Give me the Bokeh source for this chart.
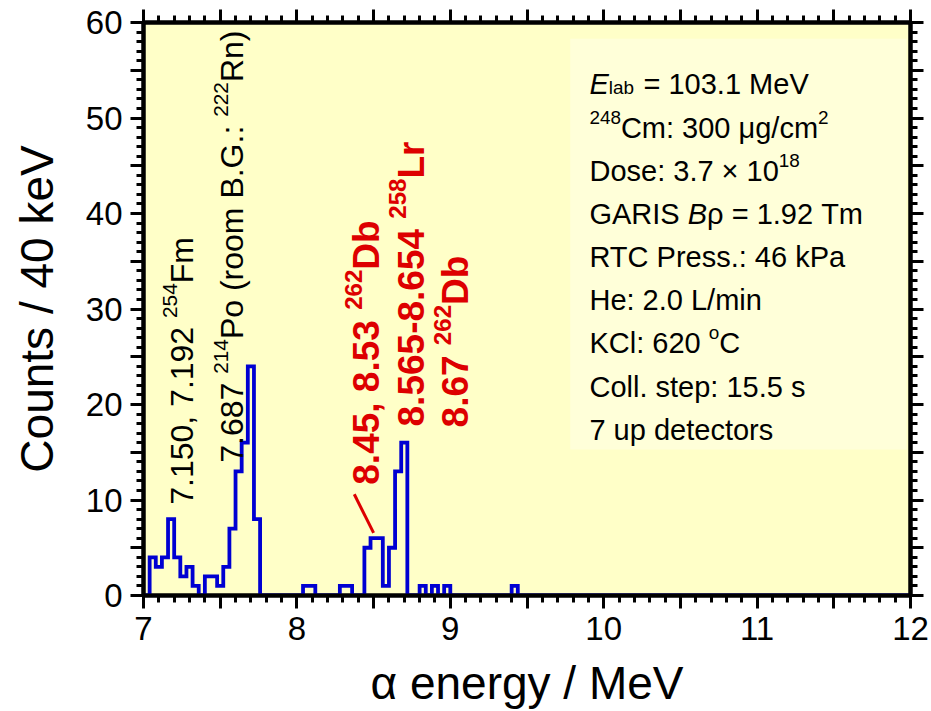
import math
from bokeh.plotting import figure
from bokeh.models import Range1d, FixedTicker, LinearAxis, Label, BoxAnnotation, CustomJSTickFormatter
from bokeh.embed import file_html
from bokeh.resources import INLINE

# ---------------- data ----------------
bin_width = 0.04
x_start, x_end = 7.0, 12.0
bin_low_edges = [7.04, 7.08, 7.12, 7.16, 7.20, 7.24, 7.28, 7.32, 7.40, 7.44, 7.48,
                 7.52, 7.56, 7.60, 7.64, 7.68, 7.72,
                 8.04, 8.08, 8.28, 8.32, 8.44, 8.48, 8.52, 8.56, 8.60, 8.64, 8.68,
                 8.80, 8.88, 8.96, 9.40]
bin_counts = [4, 3, 4, 8, 4, 2, 3, 1, 2, 2, 1,
              3, 7, 13, 16, 24, 8,
              1, 1, 1, 1, 5, 6, 6, 1, 5, 13, 16,
              1, 1, 1, 1]

x_major_ticks = [7, 7.5, 8, 8.5, 9, 9.5, 10, 10.5, 11, 11.5, 12]
y_major_ticks = [0, 5, 10, 15, 20, 25, 30, 35, 40, 45, 50, 55, 60]

# annotations (data coords of column centre / start)
black_notes = [
    (7.176, 9.5, [("7.150, 7.192 ", "n"), ("254", "sup"), ("Fm", "n")]),
    (7.502, 13.9, [("7.687 ", "n"), ("214", "sup"), ("Po (room B.G.: ", "n"), ("222", "sup"), ("Rn)", "n")]),
]
red_notes = [
    (8.366, 11.6, [("8.45, 8.53 ", "n"), ("262", "sup"), ("Db", "n")]),
    (8.659, 17.7, [("8.565-8.654 ", "n"), ("258", "sup"), ("Lr", "n")]),
    (8.947, 17.6, [("8.67 ", "n"), ("262", "sup"), ("Db", "n")]),
]
pointer = dict(x0=8.374, y0=10.6, x1=8.50, y1=6.55)

info_lines = [
    [("E", "i"), ("lab", "sub"), (" = 103.1 MeV", "n")],
    [("248", "sup"), ("Cm: 300 μg/cm", "n"), ("2", "sup")],
    [("Dose: 3.7 × 10", "n"), ("18", "sup")],
    [("GARIS ", "n"), ("B", "i"), ("ρ = 1.92 Tm", "n")],
    [("RTC Press.: 46 kPa", "n")],
    [("He: 2.0 L/min", "n")],
    [("KCl: 620 ", "n"), ("o", "sup"), ("C", "n")],
    [("Coll. step: 15.5 s", "n")],
    [("7 up detectors", "n")],
]
info_x = 9.907
info_y = [53.6, 49.0, 44.5, 40.0, 35.4, 30.9, 26.4, 21.8, 17.3]

# ---------------- font metrics (Arial / Liberation Sans) ----------------
REG = {' ': 278, '(': 333, ')': 333, ',': 278, '-': 333, '.': 278, '/': 278, ':': 278, '=': 584,
       'A': 667, 'B': 667, 'C': 722, 'D': 722, 'E': 667, 'F': 611, 'G': 778, 'H': 722, 'I': 278,
       'K': 667, 'L': 556, 'M': 833, 'P': 667, 'R': 722, 'S': 667, 'T': 611, 'V': 667,
       'a': 556, 'b': 556, 'c': 500, 'd': 556, 'e': 556, 'g': 556, 'h': 556, 'i': 222, 'k': 500,
       'l': 222, 'm': 833, 'n': 556, 'o': 556, 'p': 556, 'r': 333, 's': 500, 't': 278, 'u': 556,
       'y': 500, 'μ': 576, 'ρ': 578, '×': 584}
BOLD = {' ': 278, ',': 278, '-': 333, '.': 278, 'D': 722, 'L': 611, 'b': 611, 'r': 389}


def text_w(t, size, bold=False):
    tot = 0
    for ch in t:
        if ch.isdigit():
            tot += 556
        elif bold and ch in BOLD:
            tot += BOLD[ch]
        else:
            tot += REG.get(ch, 556)
    return tot * size / 1000.0


FONT = "Liberation Sans"
BG = "#FFFFC8"
BOX = "#FFFFD9"
BLUE = "#0000D2"
RED = "#DD0000"

p = figure(width=931, height=711, x_range=Range1d(x_start, x_end), y_range=Range1d(0, 60),
           output_backend="svg", toolbar_location=None,
           background_fill_color=BG, border_fill_color="white",
           min_border_left=143, min_border_right=21, min_border_top=22, min_border_bottom=115)
p.grid.visible = False
p.outline_line_color = "black"
p.outline_line_width = 4

xt = FixedTicker(ticks=x_major_ticks, minor_ticks=[round(7 + 0.1 * i, 1) for i in range(51)])
yt = FixedTicker(ticks=y_major_ticks, minor_ticks=list(range(0, 61)))
xfmt = CustomJSTickFormatter(code="return (Math.abs(tick - Math.round(tick)) < 1e-6) ? String(Math.round(tick)) : '';")
yfmt = CustomJSTickFormatter(code="return (Math.round(tick) % 10 == 0) ? String(Math.round(tick)) : '';")
blank = CustomJSTickFormatter(code="return '';")


def style(ax):
    ax.axis_line_width = 4
    ax.axis_line_color = "black"
    ax.major_tick_line_width = 3
    ax.minor_tick_line_width = 3
    ax.major_tick_in = 0
    ax.major_tick_out = 13
    ax.minor_tick_in = 0
    ax.minor_tick_out = 7
    ax.major_label_text_font = FONT
    ax.major_label_text_font_size = "33px"
    ax.major_label_text_color = "black"
    ax.axis_label_text_font = FONT
    ax.axis_label_text_font_style = "normal"
    ax.axis_label_text_font_size = "46px"
    ax.axis_label_text_color = "black"


xa = p.below[0]
ya = p.left[0]
xa.ticker = xt
ya.ticker = yt
xa.formatter = xfmt
ya.formatter = yfmt
style(xa)
style(ya)
xa.major_label_standoff = 8
ya.major_label_standoff = 8
xa.axis_label = "α energy / MeV"
ya.axis_label = "Counts / 40 keV"
xa.axis_label_standoff = 14
ya.axis_label_standoff = 20

top = LinearAxis(ticker=xt, formatter=blank)
right = LinearAxis(ticker=yt, formatter=blank)
for ax in (top, right):
    style(ax)
    ax.major_label_text_font_size = "0px"
    ax.major_label_standoff = 0
p.add_layout(top, "above")
p.add_layout(right, "right")

# info box background
p.add_layout(BoxAnnotation(left=9.782, right=11.974, top=58.3, bottom=15.3,
                           fill_color=BOX, fill_alpha=1.0, line_alpha=0, level="underlay"))

# ---------------- histogram ----------------
nbins = int(round((x_end - x_start) / bin_width))
full = [0] * nbins
for e, c in zip(bin_low_edges, bin_counts):
    full[int(round((e - x_start) / bin_width))] = c
xs, ys = [x_start], [0]
for i, c in enumerate(full):
    x0 = x_start + i * bin_width
    xs += [x0, x0 + bin_width]
    ys += [c, c]
xs.append(x_end)
ys.append(0)
p.line(xs, ys, line_color=BLUE, line_width=3.8, line_join="miter")


def split_lead(txt):
    stripped = txt.lstrip(" ")
    return len(txt) - len(stripped), stripped


# ---------------- rotated annotations ----------------
def rot_note(x, y, pieces, fs, bold, color):
    off = 0.0
    base = 0.36 * fs
    for txt, kind in pieces:
        size = fs * 0.65 if kind == "sup" else fs
        dx = base - (0.36 * fs if kind == "sup" else 0)
        nlead, t = split_lead(txt)
        off += text_w(" " * nlead, size, bold)
        p.add_layout(Label(x=x, y=y, x_offset=dx, y_offset=off, text=t, angle=math.pi / 2,
                           text_align="left", text_baseline="alphabetic",
                           text_font=FONT, text_font_size=f"{size:.1f}px",
                           text_font_style="bold" if bold else "normal", text_color=color))
        off += text_w(t, size, bold)


for x, y, pieces in black_notes:
    rot_note(x, y, pieces, 32, False, "black")
for x, y, pieces in red_notes:
    rot_note(x, y, pieces, 37, True, RED)

p.segment(x0=[pointer["x0"]], y0=[pointer["y0"]], x1=[pointer["x1"]], y1=[pointer["y1"]],
          line_color=RED, line_width=3)

# ---------------- info text ----------------
IFS = 29
for yb, pieces in zip(info_y, info_lines):
    off = 0.0
    for txt, kind in pieces:
        size = IFS * 0.65 if kind in ("sup", "sub") else IFS
        dy = 0.36 * IFS if kind == "sup" else (-0.14 * IFS if kind == "sub" else 0)
        nlead, t = split_lead(txt)
        off += text_w(" " * nlead, size)
        p.add_layout(Label(x=info_x, y=yb, x_offset=off, y_offset=dy, text=t,
                           text_align="left", text_baseline="alphabetic",
                           text_font=FONT, text_font_size=f"{size:.1f}px",
                           text_font_style="italic" if kind == "i" else "normal",
                           text_color="black"))
        off += text_w(t, size) + (1.5 if kind == "sub" else 0)

open("out.html", "w").write(file_html(p, INLINE))
